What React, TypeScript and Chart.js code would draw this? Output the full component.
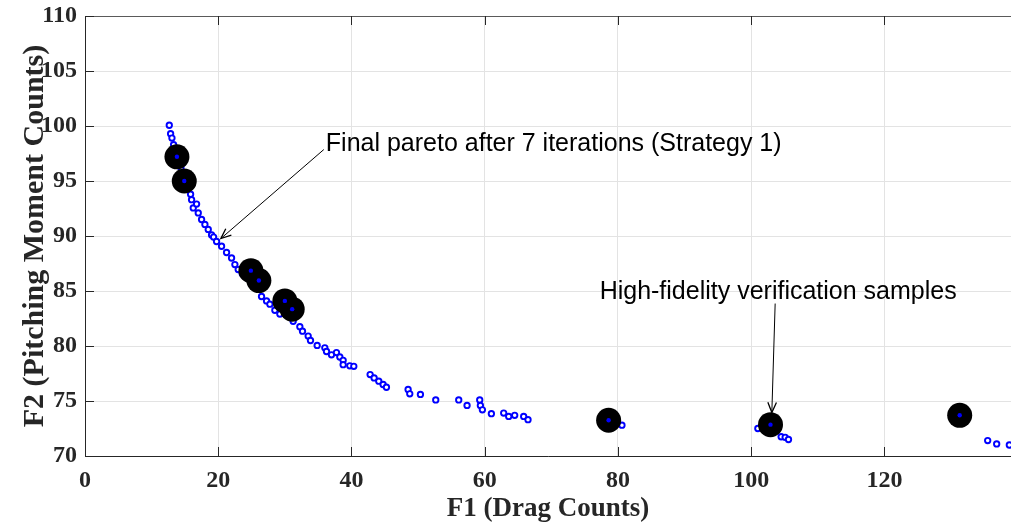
import React, { useEffect, useRef } from "react";
import { Chart, registerables } from "chart.js";
Chart.register(...registerables);

const paretoF1 = [12.65, 12.85, 13.05, 13.3, 13.6, 14.0, 14.4, 14.8, 15.3, 15.85, 16.0, 16.25, 16.75, 17.0, 17.5, 18.0, 18.5, 19.0, 19.3, 19.75, 20.5, 21.25, 22.0, 22.5, 23.0, 23.6, 24.3, 25.5, 26.5, 27.25, 27.75, 28.5, 29.25, 31.25, 32.25, 32.65, 33.5, 33.85, 34.85, 36.0, 36.25, 37.0, 37.75, 38.25, 38.75, 38.75, 39.75, 40.35, 42.8, 43.4, 44.1, 44.75, 45.25, 48.5, 48.75, 50.35, 52.65, 56.1, 57.35, 59.25, 59.35, 59.65, 61.0, 62.85, 63.6, 64.5, 65.85, 66.5, 80.6, 101.0, 104.5, 105.1, 105.6, 135.5, 136.85, 138.75];
const paretoF2 = [100.07, 99.3, 98.9, 98.3, 97.7, 96.9, 96.2, 95.5, 94.4, 93.8, 93.3, 92.55, 92.9, 92.1, 91.5, 91.05, 90.6, 90.1, 89.9, 89.5, 89.07, 88.5, 88.0, 87.4, 86.95, 86.6, 86.2, 85.6, 84.5, 84.1, 83.8, 83.25, 82.9, 82.25, 81.75, 81.35, 80.9, 80.5, 80.05, 79.83, 79.5, 79.2, 79.4, 79.0, 78.7, 78.3, 78.2, 78.15, 77.4, 77.1, 76.8, 76.5, 76.25, 76.05, 75.65, 75.6, 75.1, 75.1, 74.6, 75.1, 74.6, 74.2, 73.85, 73.9, 73.6, 73.7, 73.6, 73.3, 72.8, 72.5, 71.75, 71.7, 71.5, 71.4, 71.1, 71.0];

const hifiF1 = [13.8, 14.9, 24.9, 26.1, 30.0, 31.1, 78.6, 102.9, 131.3];
const hifiF2 = [97.2, 95.0, 86.85, 85.95, 84.1, 83.35, 73.25, 72.85, 73.7];

const xTickValues = [0, 20, 40, 60, 80, 100, 120];
const yTickValues = [70, 75, 80, 85, 90, 95, 100, 105, 110];

const xTitle = "F1 (Drag Counts)";
const yTitle = "F2 (Pitching Moment Counts)";
const note1 = "Final pareto after 7 iterations (Strategy 1)";
const note2 = "High-fidelity verification samples";

const SERIF = "'Liberation Serif', 'Times New Roman', serif";
const SANS = "'Liberation Sans', Arial, sans-serif";

function arrow(ctx: CanvasRenderingContext2D, x1: number, y1: number, x2: number, y2: number) {
  ctx.save();
  ctx.strokeStyle = "#000";
  ctx.fillStyle = "#000";
  ctx.lineWidth = 1;
  ctx.beginPath();
  ctx.moveTo(x1, y1);
  ctx.lineTo(x2, y2);
  ctx.stroke();
  const ang = Math.atan2(y2 - y1, x2 - x1);
  const len = 11;
  const spread = 0.4;
  ctx.lineWidth = 1.3;
  ctx.beginPath();
  ctx.moveTo(x2 - len * Math.cos(ang - spread), y2 - len * Math.sin(ang - spread));
  ctx.lineTo(x2, y2);
  ctx.lineTo(x2 - len * Math.cos(ang + spread), y2 - len * Math.sin(ang + spread));
  ctx.stroke();
  ctx.restore();
}

const framePlugin = {
  id: "frame",
  afterDatasetsDraw(chart: any) {
    const { ctx, chartArea, scales } = chart;
    const xs = scales.x;
    const ys = scales.y;
    ctx.save();
    ctx.lineWidth = 1;
    ctx.strokeStyle = "#262626";
    ctx.beginPath();
    ctx.moveTo(chartArea.left + 0.5, chartArea.top);
    ctx.lineTo(chartArea.left + 0.5, chartArea.bottom + 0.5);
    ctx.lineTo(chartArea.right, chartArea.bottom + 0.5);
    ctx.stroke();
    ctx.strokeStyle = "#5a5a5a";
    ctx.beginPath();
    ctx.moveTo(chartArea.left, chartArea.top + 0.5);
    ctx.lineTo(chartArea.right, chartArea.top + 0.5);
    ctx.stroke();
    const tl = 9;
    ctx.strokeStyle = "#262626";
    ctx.beginPath();
    xTickValues.forEach((v) => {
      const px = Math.round(xs.getPixelForValue(v)) + 0.5;
      ctx.moveTo(px, chartArea.bottom);
      ctx.lineTo(px, chartArea.bottom - tl);
      ctx.moveTo(px, chartArea.top);
      ctx.lineTo(px, chartArea.top + tl);
    });
    yTickValues.forEach((v) => {
      const py = Math.round(ys.getPixelForValue(v)) + 0.5;
      ctx.moveTo(chartArea.left, py);
      ctx.lineTo(chartArea.left + tl, py);
    });
    ctx.stroke();

    ctx.fillStyle = "#000";
    ctx.font = `25px ${SANS}`;
    ctx.textAlign = "left";
    ctx.textBaseline = "alphabetic";
    ctx.fillText(note1, xs.getPixelForValue(36.15), ys.getPixelForValue(97.7));
    ctx.fillText(note2, xs.getPixelForValue(77.25), ys.getPixelForValue(84.25));
    arrow(ctx, xs.getPixelForValue(35.85), ys.getPixelForValue(97.86), xs.getPixelForValue(20.4), ys.getPixelForValue(89.77));
    arrow(ctx, xs.getPixelForValue(103.6), ys.getPixelForValue(83.86), xs.getPixelForValue(103.1), ys.getPixelForValue(73.95));
    ctx.restore();
  },
};

export default function App() {
  const ref = useRef<HTMLCanvasElement | null>(null);
  useEffect(() => {
    if (!ref.current) return;
    const pareto = paretoF1.map((x, i) => ({ x, y: paretoF2[i] }));
    const hifi = hifiF1.map((x, i) => ({ x, y: hifiF2[i] }));
    const chart = new Chart(ref.current, {
      type: "scatter",
      data: {
        datasets: [
          {
            label: "Pareto",
            data: pareto,
            pointRadius: 2.7,
            pointBorderWidth: 1.9,
            pointBorderColor: "#0000ff",
            pointBackgroundColor: "rgba(255,255,255,1)",
            showLine: false,
            order: 3,
          },
          {
            label: "High-fidelity",
            data: hifi,
            pointRadius: 12.5,
            pointBorderWidth: 0,
            pointBorderColor: "#000",
            pointBackgroundColor: "#000",
            showLine: false,
            order: 2,
          },
          {
            label: "High-fidelity centre",
            data: hifi,
            pointRadius: 2.2,
            pointBorderWidth: 0,
            pointBackgroundColor: "#0000ff",
            showLine: false,
            order: 1,
          },
        ],
      },
      options: {
        animation: false,
        responsive: false,
        maintainAspectRatio: false,
        layout: { autoPadding: false, padding: { top: 16, right: 0, left: 0, bottom: 0 } },
        plugins: {
          legend: { display: false },
          tooltip: { enabled: false },
        },
        scales: {
          x: {
            type: "linear",
            min: 0,
            max: 139,
            afterFit: (s: any) => {
              s.height = 71;
              s.paddingLeft = 0;
              s.paddingRight = 0;
            },
            afterBuildTicks: (s: any) => {
              s.ticks = xTickValues.map((v) => ({ value: v }));
            },
            ticks: {
              autoSkip: false,
              maxRotation: 0,
              includeBounds: false,
              padding: 10,
              color: "#262626",
              font: { family: SERIF, size: 24, weight: "bold" },
            },
            grid: { color: "#e3e3e3", drawTicks: false, lineWidth: 1 },
            border: { display: false },
            title: {
              display: true,
              text: xTitle,
              color: "#262626",
              font: { family: SERIF, size: 27, weight: "bold" },
              padding: { top: 0, bottom: 2 },
            },
          },
          y: {
            type: "linear",
            min: 70,
            max: 110,
            afterFit: (s: any) => {
              s.width = 85;
              s.paddingTop = 0;
              s.paddingBottom = 0;
            },
            afterBuildTicks: (s: any) => {
              s.ticks = yTickValues.map((v) => ({ value: v }));
            },
            ticks: {
              autoSkip: false,
              includeBounds: false,
              padding: 8,
              color: "#262626",
              font: { family: SERIF, size: 24, weight: "bold" },
            },
            grid: { color: "#e3e3e3", drawTicks: false, lineWidth: 1 },
            border: { display: false },
            title: {
              display: true,
              text: yTitle,
              color: "#262626",
              font: { family: SERIF, size: 30, weight: "bold" },
              padding: { top: 17, bottom: 0 },
            },
          },
        },
      },
      plugins: [framePlugin],
    });
    return () => chart.destroy();
  }, []);
  return (
    <div style={{ position: "fixed", left: 0, top: 0, width: 1011, height: 527, overflow: "hidden", background: "#fff" }}>
      <canvas ref={ref} width={1011} height={527} style={{ width: 1011, height: 527, display: "block" }} />
    </div>
  );
}
